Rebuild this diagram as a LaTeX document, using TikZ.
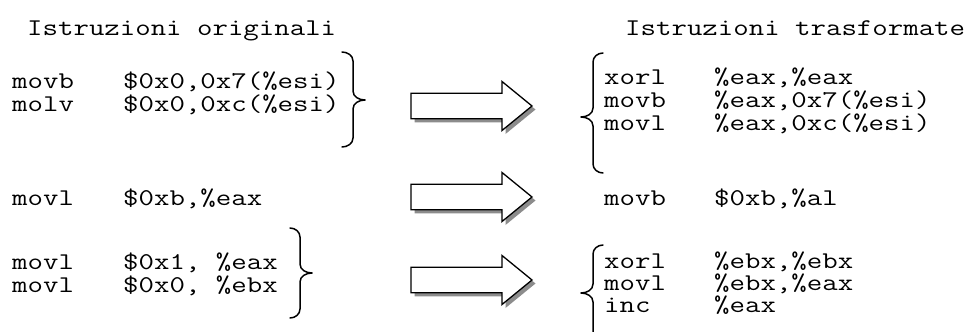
\documentclass[tikz,border=0pt]{standalone}
\usepackage{graphicx}

% typewriter text, widened to the pitch of the listing
\newcommand\cw[1]{\scalebox{1.25}[1]{#1}}

% braces grouping the instructions: hooks at x=h, stem at x=s, point at x=p
% right-pointing brace from top t to bottom b with its point at height m
\newcommand\rightgroup[6]{% h s p t m b
  \draw[curly] (#1,#4) to[out=0,in=90] (#2,#4+9) -- (#2,#5-9)
    to[out=-90,in=180] (#3,#5) to[out=180,in=90] (#2,#5+9)
    -- (#2,#6-9) to[out=-90,in=0] (#1,#6);}
% left-pointing brace
\newcommand\leftgroup[6]{% h s p t m b
  \draw[curly] (#1,#4) to[out=180,in=90] (#2,#4+9) -- (#2,#5-9)
    to[out=-90,in=0] (#3,#5) to[out=0,in=90] (#2,#5+9)
    -- (#2,#6-9) to[out=-90,in=180] (#1,#6);}

\begin{document}
\begin{tikzpicture}[x=1pt, y=-1pt,
  code/.style={anchor=base west, inner sep=0pt,
    font=\ttfamily\fontsize{24}{24}\selectfont},
  curly/.style={line width=1.5pt, line cap=round, line join=round},
  blockarrow/.pic={
    % drop shadow, then the white block arrow with its tip at the origin
    \fill[black!45, shift={(3.5,3.5)}]
      (-121,-12.75) -- (-30,-12.75) -- (-30,-24.5) -- (0,0)
      -- (-30,24.5) -- (-30,12.75) -- (-121,12.75) -- cycle;
    \draw[fill=white, line width=1.3pt, line join=miter]
      (-121,-12.75) -- (-30,-12.75) -- (-30,-24.5) -- (0,0)
      -- (-30,24.5) -- (-30,12.75) -- (-121,12.75) -- cycle;
  }]
\useasboundingbox (0,0) rectangle (975,332);

% column headers
\node[code] (hdrL) at (27,35) {\cw{Istruzioni originali}};
\node[code] (hdrR) at (625,35) {\cw{Istruzioni trasformate}};

% first group
\node[code] (o1a) at (12,88)   {\cw{movb}};
\node[code] (o1b) at (123,88)  {\cw{\$0x0,0x7(\%esi)}};
\node[code] (o2a) at (12,111)  {\cw{molv}};
\node[code] (o2b) at (123,111) {\cw{\$0x0,0xc(\%esi)}};

\node[code] (t1a) at (604,84)  {\cw{xorl}};
\node[code] (t1b) at (714,84)  {\cw{\%eax,\%eax}};
\node[code] (t2a) at (604,107) {\cw{movb}};
\node[code] (t2b) at (714,107) {\cw{\%eax,0x7(\%esi)}};
\node[code] (t3a) at (604,130) {\cw{movl}};
\node[code] (t3b) at (714,130) {\cw{\%eax,0xc(\%esi)}};

% second group
\node[code] (o3a) at (12,205)  {\cw{movl}};
\node[code] (o3b) at (123,205) {\cw{\$0xb,\%eax}};
\node[code] (t4a) at (604,205) {\cw{movb}};
\node[code] (t4b) at (714,205) {\cw{\$0xb,\%al}};

% third group
\node[code] (o4a) at (12,269)  {\cw{movl}};
\node[code] (o4b) at (123,269) {\cw{\$0x1,\ \%eax}};
\node[code] (o5a) at (12,292)  {\cw{movl}};
\node[code] (o5b) at (123,292) {\cw{\$0x0,\ \%ebx}};

\node[code] (t5a) at (604,268) {\cw{xorl}};
\node[code] (t5b) at (714,268) {\cw{\%ebx,\%ebx}};
\node[code] (t6a) at (604,290) {\cw{movl}};
\node[code] (t6b) at (714,290) {\cw{\%ebx,\%eax}};
\node[code] (t7a) at (604,312) {\cw{inc}};
\node[code] (t7b) at (714,312) {\cw{\%eax}};

% braces
\rightgroup{342}{353}{365}{52}{100}{147}
\leftgroup{603}{593}{581}{53}{117}{173}
\rightgroup{290}{300}{312}{228}{273}{318}
\leftgroup{603}{593}{581}{245}{293}{341}

% transformation arrows
\pic (a1) at (532,106) {blockarrow};
\pic (a2) at (532,197) {blockarrow};
\pic (a3) at (532,280) {blockarrow};
\end{tikzpicture}
\end{document}
